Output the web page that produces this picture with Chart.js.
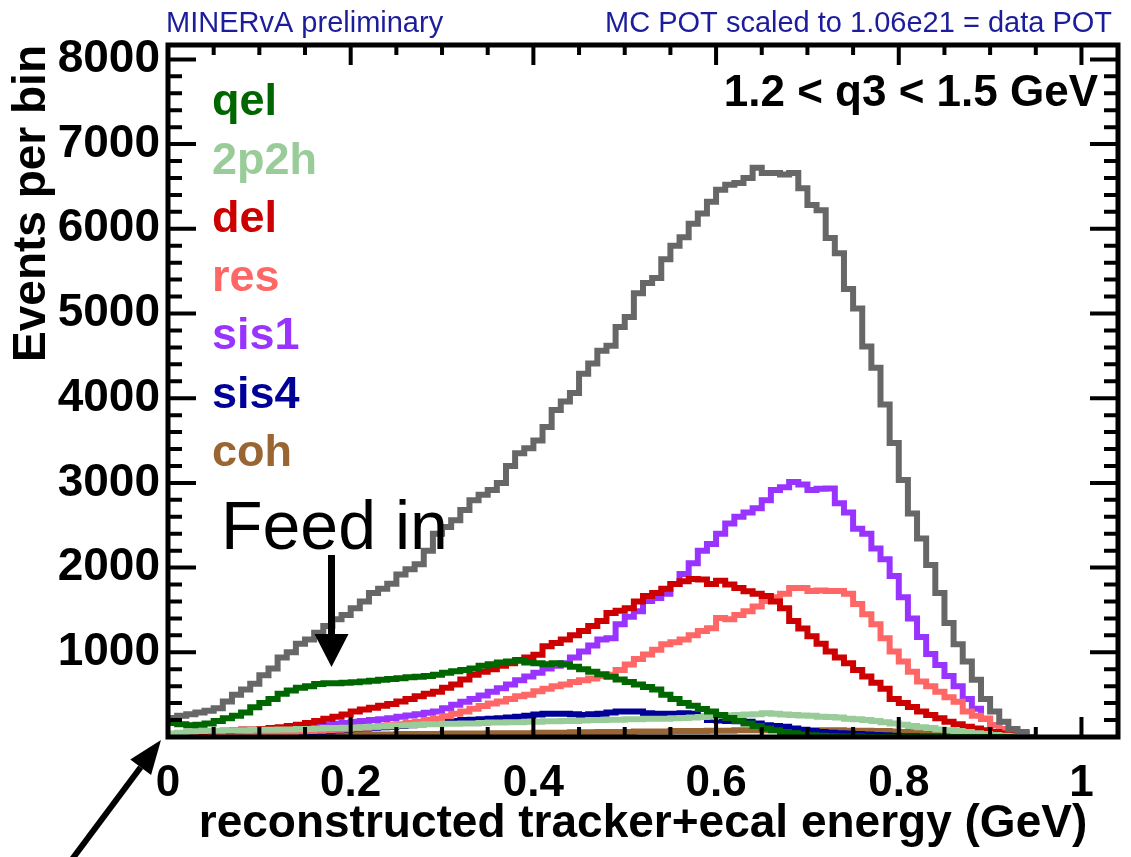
<!DOCTYPE html>
<html>
<head>
<meta charset="utf-8">
<title>Reconstructed tracker+ecal energy, 1.2 &lt; q3 &lt; 1.5 GeV</title>
<script src="https://cdn.jsdelivr.net/npm/chart.js@4.4.1/dist/chart.umd.min.js"></script>
<style>
  html, body { margin: 0; padding: 0; background: #fff; }
  canvas { display: block; }
</style>
</head>
<body>
<canvas id="chartEnergy" width="1131" height="857"></canvas>
<script>
// Histogram bins: 0.01 GeV wide, first bin starts at 0
const BIN_WIDTH = 0.01;

// Axis ticks
const X_TICKS = [0, 0.2, 0.4, 0.6, 0.8, 1];
const X_TICK_LABELS = ['0', '0.2', '0.4', '0.6', '0.8', '1'];
const Y_TICKS = [1000, 2000, 3000, 4000, 5000, 6000, 7000, 8000];
const Y_TICK_LABELS = ['1000', '2000', '3000', '4000', '5000', '6000', '7000', '8000'];

// Events per bin (bins 0.00 .. 0.94)
const total = [
  215, 225, 250, 270, 290, 310, 340, 420, 500, 560,
  630, 730, 810, 940, 1000, 1100, 1150, 1230, 1310, 1390,
  1440, 1520, 1600, 1700, 1750, 1810, 1920, 1980, 2040, 2200,
  2400, 2480, 2560, 2680, 2795, 2860, 2915, 3000, 3200, 3350,
  3410, 3500, 3660, 3860, 3960, 4060, 4290, 4410, 4560, 4620,
  4840, 4960, 5240, 5360, 5420, 5640, 5800, 5900, 6060, 6180,
  6320, 6460, 6520, 6540, 6600, 6720, 6660, 6660, 6640, 6660,
  6480, 6280, 6220, 5890, 5710, 5290, 5060, 4610, 4360, 3925,
  3470, 3035, 2640, 2345, 2030, 1700, 1345, 1095, 890, 675,
  450, 300, 180, 95, 60
];
const qel = [
  170, 165, 150, 140, 145, 160, 190, 220, 250, 290,
  350, 400, 450, 510, 550, 580, 600, 625, 635, 635,
  640, 645, 655, 665, 675, 685, 695, 705, 710, 720,
  735, 760, 775, 790, 810, 840, 860, 880, 890, 900,
  880, 870, 860, 870, 855, 830, 800, 770, 740, 710,
  680, 650, 620, 590, 560, 500, 450, 400, 370, 330,
  300, 260, 225, 190, 160, 130, 100, 80, 60, 45,
  30, 20, 15, 10, 5, 5, 5, 0, 0, 0,
  0, 0, 0, 0, 0, 0, 0, 0, 0, 0,
  0, 0, 0, 0, 0
];
const twoP2h = [
  30, 40, 50, 65, 70, 75, 75, 80, 80, 80,
  85, 85, 85, 90, 90, 95, 95, 100, 105, 105,
  110, 110, 115, 120, 125, 130, 135, 140, 145, 150,
  150, 155, 155, 160, 160, 165, 170, 170, 175, 175,
  180, 180, 185, 185, 190, 190, 195, 200, 200, 205,
  205, 210, 210, 215, 215, 215, 220, 225, 230, 235,
  240, 250, 255, 260, 265, 270, 280, 275, 265, 260,
  255, 250, 240, 235, 230, 215, 210, 200, 190, 175,
  160, 145, 130, 115, 105, 90, 80, 70, 60, 45,
  35, 25, 15, 10, 5
];
const del = [
  20, 30, 40, 50, 60, 65, 70, 75, 80, 90,
  90, 95, 105, 115, 130, 145, 165, 190, 215, 240,
  265, 300, 325, 345, 370, 390, 420, 450, 480, 510,
  535, 580, 620, 680, 735, 770, 800, 840, 870, 910,
  940, 970, 1070, 1110, 1150, 1200, 1250, 1310, 1370, 1465,
  1490, 1520, 1600, 1665, 1700, 1750, 1805, 1840, 1865, 1860,
  1805, 1845, 1800, 1760, 1720, 1690, 1665, 1600, 1520, 1370,
  1280, 1190, 1100, 1010, 940, 870, 790, 715, 640, 570,
  450, 400, 355, 300, 260, 220, 180, 150, 120, 100,
  80, 60, 40, 20, 0
];
const res = [
  10, 10, 15, 15, 20, 20, 25, 25, 30, 35,
  40, 45, 50, 55, 60, 65, 70, 75, 80, 85,
  95, 100, 110, 120, 130, 140, 150, 165, 180, 200,
  215, 245, 275, 300, 335, 365, 395, 420, 450, 480,
  500, 540, 570, 600, 620, 650, 670, 690, 720, 735,
  790, 855, 920, 975, 1030, 1095, 1120, 1150, 1200, 1250,
  1285, 1405, 1390, 1440, 1485, 1540, 1605, 1650, 1690, 1760,
  1760, 1725, 1730, 1725, 1725, 1690, 1570, 1450, 1330, 1165,
  1010, 890, 770, 655, 600, 535, 470, 415, 300, 250,
  215, 140, 95, 50, 20
];
const sis1 = [
  5, 5, 10, 10, 15, 20, 25, 30, 40, 50,
  60, 70, 80, 90, 100, 110, 120, 130, 145, 155,
  165, 180, 190, 200, 210, 220, 240, 255, 270, 285,
  300, 340, 380, 415, 450, 490, 535, 575, 620, 670,
  715, 760, 810, 840, 870, 940, 1010, 1080, 1150, 1165,
  1330, 1420, 1485, 1605, 1640, 1690, 1805, 1925, 2050, 2200,
  2280, 2400, 2520, 2600, 2650, 2700, 2795, 2915, 2950, 3010,
  2980, 2915, 2930, 2935, 2760, 2650, 2460, 2400, 2225, 2100,
  1900, 1650, 1400, 1180, 980, 850, 720, 600, 450, 335,
  215, 140, 80, 60, 40
];
const sis4 = [
  5, 5, 5, 5, 5, 10, 10, 10, 10, 15,
  15, 20, 20, 25, 30, 35, 45, 55, 65, 80,
  90, 95, 100, 110, 115, 120, 130, 140, 150, 165,
  180, 185, 190, 200, 205, 210, 215, 220, 230, 240,
  250, 265, 275, 275, 275, 270, 260, 270, 275, 290,
  300, 300, 300, 280, 275, 275, 275, 280, 275, 240,
  200, 195, 190, 185, 180, 160, 140, 130, 120, 100,
  85, 70, 60, 50, 45, 40, 35, 30, 25, 20,
  15, 10, 10, 5, 5, 5, 0, 0, 0, 0,
  0, 0, 0, 0, 0
];
const coh = [
  0, 0, 5, 5, 5, 10, 10, 10, 10, 15,
  15, 15, 15, 20, 20, 20, 20, 25, 25, 25,
  25, 30, 30, 30, 30, 30, 35, 35, 35, 35,
  35, 40, 40, 40, 40, 40, 45, 45, 45, 45,
  45, 50, 50, 50, 50, 55, 55, 55, 60, 60,
  60, 60, 65, 65, 65, 65, 70, 70, 70, 70,
  75, 75, 75, 80, 80, 80, 80, 80, 80, 80,
  80, 80, 80, 80, 80, 75, 75, 75, 70, 70,
  65, 60, 55, 50, 45, 35, 30, 20, 15, 10,
  5, 0, 0, 0, 0
];

const X_MAX = 1.04;
const Y_MAX = 8170;
const FONT = "'Liberation Sans', Arial, sans-serif";

// Bảng màu kiểu ROOT
const COLORS = {
  total: '#676767',
  qel: '#006600',
  twoP2h: '#99cc99',
  del: '#cc0000',
  res: '#ff6666',
  sis1: '#9933ff',
  sis4: '#000099',
  coh: '#996633',
  header: '#1c1c9c'
};

// Legend entries (text only, coloured like the lines); total has no entry
const SERIES = [
  { key: 'total', label: 'total', values: total, legend: false },
  { key: 'qel', label: 'qel', values: qel, legend: true },
  { key: 'twoP2h', label: '2p2h', values: twoP2h, legend: true },
  { key: 'del', label: 'del', values: del, legend: true },
  { key: 'res', label: 'res', values: res, legend: true },
  { key: 'sis1', label: 'sis1', values: sis1, legend: true },
  { key: 'sis4', label: 'sis4', values: sis4, legend: true },
  { key: 'coh', label: 'coh', values: coh, legend: true }
];

// bin contents -> step points (left edge of each bin, closed at the last edge)
function toSteps(values) {
  const pts = values.map((v, i) => ({ x: +(i * BIN_WIDTH).toFixed(2), y: v }));
  pts.push({ x: +(values.length * BIN_WIDTH).toFixed(2), y: 0 });
  return pts;
}

function drawArrow(ctx, x1, y1, x2, y2, width, headLen, headHalf) {
  const ang = Math.atan2(y2 - y1, x2 - x1);
  const bx = x2 - headLen * Math.cos(ang);
  const by = y2 - headLen * Math.sin(ang);
  ctx.lineWidth = width;
  ctx.beginPath();
  ctx.moveTo(x1, y1);
  ctx.lineTo(bx, by);
  ctx.stroke();
  ctx.beginPath();
  ctx.moveTo(x2, y2);
  ctx.lineTo(bx + headHalf * Math.sin(ang), by - headHalf * Math.cos(ang));
  ctx.lineTo(bx - headHalf * Math.sin(ang), by + headHalf * Math.cos(ang));
  ctx.closePath();
  ctx.fill();
}

// Frame with ROOT-style inward ticks on all four sides
const rootFrame = {
  id: 'rootFrame',
  afterDatasetsDraw(chart) {
    const { ctx, chartArea: a, scales: { x, y } } = chart;
    ctx.save();
    ctx.strokeStyle = '#000';
    ctx.lineCap = 'butt';
    ctx.lineWidth = 4;
    ctx.beginPath();
    for (let k = 0; k * 0.05 <= X_MAX + 1e-9; k++) {
      const px = x.getPixelForValue(k * 0.05);
      const len = k % 4 === 0 ? 20 : 10;
      ctx.moveTo(px, a.bottom); ctx.lineTo(px, a.bottom - len);
      ctx.moveTo(px, a.top); ctx.lineTo(px, a.top + len);
    }
    for (let k = 1; k * 200 <= Y_MAX; k++) {
      const py = y.getPixelForValue(k * 200);
      const len = k % 5 === 0 ? 28 : 14;
      ctx.moveTo(a.left, py); ctx.lineTo(a.left + len, py);
      ctx.moveTo(a.right, py); ctx.lineTo(a.right - len, py);
    }
    ctx.stroke();
    ctx.lineWidth = 5;
    ctx.strokeRect(a.left, a.top, a.right - a.left, a.bottom - a.top);
    ctx.restore();
  }
};

// Texts and arrows drawn over the plot
const overlayText = {
  id: 'overlayText',
  afterDraw(chart) {
    const { ctx, chartArea: a, scales: { x, y } } = chart;
    ctx.save();

    ctx.fillStyle = COLORS.header;
    ctx.font = `29px ${FONT}`;
    ctx.textBaseline = 'alphabetic';
    ctx.textAlign = 'left';
    ctx.fillText('MINERvA preliminary', a.left - 2, 32);
    ctx.textAlign = 'right';
    ctx.fillText('MC POT scaled to 1.06e21 = data POT', 1112, 32);

    ctx.fillStyle = '#000';
    ctx.font = `bold 44px ${FONT}`;
    ctx.fillText('1.2 < q3 < 1.5 GeV', a.right - 20, 106);

    // legend column
    ctx.textAlign = 'left';
    ctx.font = `bold 45px ${FONT}`;
    let row = 0;
    SERIES.filter(s => s.legend).forEach(s => {
      ctx.fillStyle = COLORS[s.key];
      ctx.fillText(s.label, 212, 115 + row * 58.5);
      row++;
    });

    // "Feed in" annotation
    ctx.fillStyle = '#000';
    ctx.strokeStyle = '#000';
    ctx.font = `68px ${FONT}`;
    ctx.fillText('Feed in', 221, 549);
    const fx = x.getPixelForValue(0.179);
    drawArrow(ctx, fx, 555, fx, 667, 7, 33, 17);

    // arrow pointing at the origin
    drawArrow(ctx, 70, 862, x.getPixelForValue(0) - 7, y.getPixelForValue(0) + 3, 6, 34, 13);

    ctx.restore();
  }
};

new Chart(document.getElementById('chartEnergy'), {
  type: 'line',
  data: {
    datasets: SERIES.map(s => ({
      label: s.label,
      data: toSteps(s.values),
      borderColor: COLORS[s.key],
      backgroundColor: COLORS[s.key],
      borderWidth: 6,
      stepped: 'after',
      pointRadius: 0,
      fill: false
    }))
  },
  options: {
    responsive: false,
    animation: false,
    devicePixelRatio: 1,
    layout: { padding: { top: 45, right: 13, left: 0, bottom: 0 } },
    plugins: { legend: { display: false }, tooltip: { enabled: false } },
    scales: {
      x: {
        type: 'linear',
        min: 0,
        max: X_MAX,
        grid: { display: false, drawTicks: false },
        border: { display: false },
        ticks: {
          color: '#000',
          font: { family: FONT, weight: 'bold', size: 44 },
          padding: 20,
          maxRotation: 0,
          autoSkip: false,
          callback: (v, i) => X_TICK_LABELS[i]
        },
        afterBuildTicks: s => { s.ticks = X_TICKS.map(v => ({ value: v })); },
        afterFit: s => { s.height = 120; },
        title: {
          display: true,
          text: 'reconstructed tracker+ecal energy (GeV)',
          color: '#000',
          font: { family: FONT, weight: 'bold', size: 46 },
          padding: { top: 0, bottom: 5 }
        }
      },
      y: {
        min: 0,
        max: Y_MAX,
        grid: { display: false, drawTicks: false },
        border: { display: false },
        ticks: {
          color: '#000',
          font: { family: FONT, weight: 'bold', size: 46 },
          padding: 8,
          autoSkip: false,
          callback: (v, i) => Y_TICK_LABELS[i]
        },
        afterBuildTicks: s => { s.ticks = Y_TICKS.map(v => ({ value: v })); },
        afterFit: s => { s.width = 168; },
        title: {
          display: true,
          text: 'Events per bin',
          align: 'end',
          color: '#000',
          font: { family: FONT, weight: 'bold', size: 46 },
          padding: { top: 5, bottom: 0 }
        }
      }
    }
  },
  plugins: [rootFrame, overlayText]
});
</script>
</body>
</html>
